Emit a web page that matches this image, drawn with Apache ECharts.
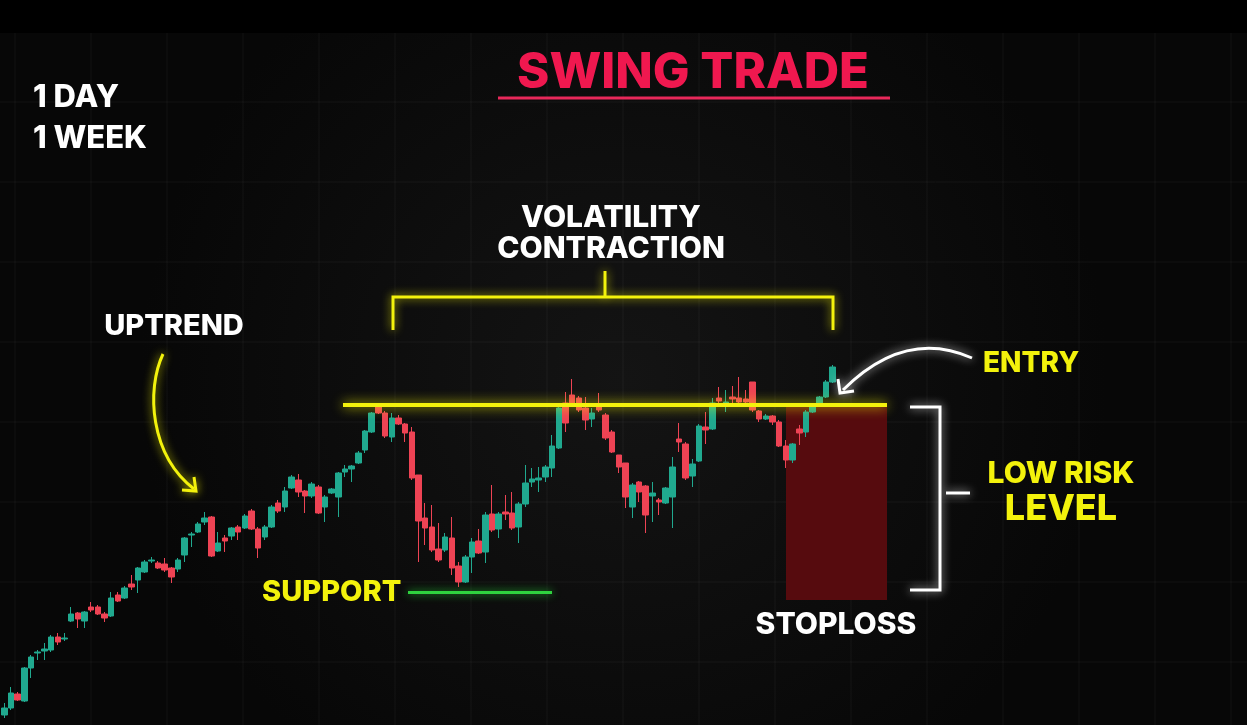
<!DOCTYPE html>
<html>
<head>
<meta charset="utf-8">
<title>Swing Trade</title>
<script src="https://cdn.jsdelivr.net/npm/echarts@6/dist/echarts.min.js"></script>
<style>
    html, body { margin: 0; padding: 0; background: #0a0a0a; }
    #chart { width: 1247px; height: 725px; }
</style>
</head>
<body>
<div id="chart"></div>
<script>
// 蜡烛数据（开、收、低、高）
const opens = [
    18.5, 19.2, 20.6, 19.9, 23.2, 24.7, 24.9, 25.0, 26.3, 26.1,
    27.9, 28.7, 27.9, 29.3, 29.3, 28.6, 28.4, 30.5, 30.2, 31.6,
    32.0, 32.8, 33.9, 33.7, 33.6, 33.2, 33.1, 34.5, 36.5, 36.8,
    37.8, 38.3, 34.9, 36.2, 36.4, 37.3, 37.2, 38.9, 37.1, 36.3,
    37.3, 39.7, 39.3, 41.2, 42.0, 40.9, 40.4, 41.3, 39.3, 40.7,
    40.3, 42.8, 43.1, 43.7, 45.0, 46.8, 49.3, 48.7, 46.3, 48.2,
    47.6, 46.8, 42.5, 38.2, 37.3, 35.1, 35.0, 36.2, 33.4, 31.8,
    34.3, 35.9, 34.8, 38.6, 37.1, 38.8, 38.7, 37.3, 39.6, 41.8,
    42.0, 42.3, 43.2, 45.2, 49.7, 50.5, 50.2, 49.2, 48.1, 49.3,
    48.5, 46.8, 44.5, 43.7, 39.3, 41.8, 41.4, 40.4, 40.0, 39.7,
    40.3, 46.1, 45.6, 42.4, 43.9, 47.3, 47.1, 50.2, 49.7, 50.3,
    50.2, 50.1, 51.8, 48.9, 48.1, 48.4, 47.8, 45.4, 44.0, 47.1,
    46.8, 48.8, 49.7, 50.3, 51.8
];
const closes = [
    19.2, 20.7, 20.0, 23.2, 24.3, 24.8, 25.1, 26.3, 25.8, 26.2,
    28.6, 28.1, 28.8, 29.0, 28.6, 28.2, 30.2, 29.9, 31.2, 31.3,
    33.2, 33.8, 34.0, 33.2, 33.0, 32.3, 34.0, 36.2, 36.6, 37.6,
    38.2, 34.4, 35.7, 35.9, 37.2, 36.8, 38.4, 37.1, 35.2, 37.3,
    39.3, 38.9, 40.9, 42.3, 40.8, 40.4, 41.6, 38.7, 40.3, 41.1,
    42.7, 43.1, 43.4, 44.7, 46.9, 48.7, 48.7, 46.4, 48.2, 47.6,
    46.7, 42.2, 37.9, 37.2, 35.0, 34.0, 36.3, 33.2, 31.8, 34.3,
    35.8, 34.7, 38.5, 37.0, 38.6, 38.6, 37.2, 39.6, 41.7, 42.1,
    42.2, 43.3, 45.4, 49.2, 47.7, 49.7, 49.0, 48.0, 48.7, 49.0,
    46.2, 44.8, 43.3, 40.3, 41.5, 40.8, 38.5, 40.7, 39.8, 41.2,
    43.3, 45.8, 42.2, 43.6, 47.4, 47.0, 49.7, 49.9, 49.8, 50.1,
    49.8, 49.8, 49.0, 48.1, 48.4, 47.8, 45.4, 44.0, 45.6, 46.7,
    48.8, 49.3, 50.3, 51.8, 53.3
];
const lows = [
    18.2, 19.0, 19.9, 19.8, 22.2, 24.0, 24.0, 24.8, 25.5, 25.9,
    27.8, 27.2, 27.2, 28.8, 28.5, 27.8, 28.3, 29.8, 30.1, 31.0,
    30.7, 32.7, 33.7, 33.1, 32.8, 31.7, 32.8, 33.8, 35.3, 36.7,
    37.5, 34.3, 34.8, 34.8, 36.0, 36.0, 37.1, 37.0, 34.2, 36.0,
    37.2, 38.7, 38.8, 41.1, 40.3, 38.7, 40.2, 38.6, 37.8, 40.6,
    38.3, 42.3, 41.8, 43.6, 44.7, 46.7, 48.6, 46.2, 45.8, 47.5,
    45.8, 42.0, 33.8, 35.5, 34.8, 33.8, 34.8, 32.5, 31.3, 31.7,
    32.7, 34.6, 33.7, 36.8, 36.2, 38.0, 37.0, 35.7, 39.3, 41.3,
    40.8, 41.8, 42.3, 45.1, 46.8, 49.5, 48.8, 47.0, 47.3, 48.8,
    46.0, 44.7, 42.7, 39.2, 38.2, 39.8, 36.7, 37.8, 38.5, 39.6,
    37.2, 44.8, 42.0, 41.3, 43.8, 45.6, 47.0, 49.7, 48.8, 49.5,
    49.3, 49.7, 48.8, 47.8, 48.0, 47.5, 45.3, 43.2, 43.7, 45.5,
    46.3, 48.7, 49.6, 50.2, 51.7
];
const highs = [
    19.7, 21.3, 20.8, 23.3, 24.5, 25.0, 25.7, 26.5, 26.7, 26.7,
    29.3, 28.8, 28.9, 29.8, 29.5, 28.8, 30.8, 30.8, 31.4, 32.5,
    33.3, 34.0, 34.3, 33.9, 34.2, 33.3, 34.2, 36.3, 36.8, 37.8,
    38.8, 38.4, 36.8, 36.5, 37.3, 37.5, 38.6, 39.1, 37.3, 37.5,
    39.5, 40.0, 41.3, 42.5, 42.6, 41.0, 41.8, 41.5, 40.5, 41.2,
    42.8, 43.5, 43.5, 44.9, 47.0, 48.8, 49.4, 48.9, 48.7, 48.5,
    47.7, 47.3, 42.5, 39.7, 39.5, 37.7, 36.7, 38.3, 33.8, 34.5,
    36.2, 37.1, 38.8, 41.5, 38.8, 40.5, 40.8, 39.8, 43.5, 43.2,
    43.3, 43.5, 46.5, 49.4, 50.8, 52.1, 50.4, 50.3, 49.2, 50.7,
    48.7, 47.0, 44.5, 43.7, 41.7, 41.9, 41.5, 41.8, 40.2, 41.3,
    44.3, 47.7, 45.8, 44.1, 47.6, 48.8, 50.2, 51.3, 51.0, 51.4,
    52.3, 51.0, 51.8, 49.0, 48.6, 48.5, 48.0, 46.0, 45.7, 47.5,
    49.0, 49.4, 50.4, 52.0, 53.5
];

// 关键价位
const resistanceLevel = 49.5;
const supportLevel = 30.8;
const stopLevel = 30.0;

const days = opens.map((_, i) => 'D' + (i + 1));
const candles = opens.map((o, i) => [o, closes[i], lows[i], highs[i]]);

const UP = '#20a98f';
const DOWN = '#ee4354';
const YELLOW = '#f3f20c';
const FONT = 'Inter, "Noto Sans", sans-serif';

// 背景网格
const bgLines = [];
for (let x = 15; x < 1247; x += 76) {
    bgLines.push({ type: 'line', z: -5, shape: { x1: x, y1: 33, x2: x, y2: 725 }, style: { stroke: 'rgba(255,255,255,0.05)', lineWidth: 1 } });
}
for (let y = 102; y < 725; y += 80) {
    bgLines.push({ type: 'line', z: -5, shape: { x1: 0, y1: y, x2: 1247, y2: y }, style: { stroke: 'rgba(255,255,255,0.05)', lineWidth: 1 } });
}

function label(text, x, y, size, fill, align) {
    return {
        type: 'text',
        z: 100,
        style: {
            text: text,
            x: x,
            y: y,
            fill: fill,
            font: '800 ' + size + 'px ' + FONT,
            align: align || 'center',
            verticalAlign: 'middle'
        }
    };
}

const glowYellow = { stroke: YELLOW, lineWidth: 3, shadowBlur: 10, shadowColor: 'rgba(255,255,0,0.8)', fill: null };
const glowWhite = { stroke: '#ffffff', lineWidth: 3, shadowBlur: 10, shadowColor: 'rgba(255,255,255,0.8)', fill: null };

const eChart = echarts.init(document.getElementById('chart'));
const option = {
    backgroundColor: '#0a0a0a',
    animation: false,
    grid: { left: 1, top: 0, width: 835, height: 725 },
    xAxis: {
        type: 'category',
        data: days,
        show: false
    },
    yAxis: {
        type: 'value',
        min: 17.5,
        max: 90,
        show: false,
        splitLine: { show: false }
    },
    series: [
        {
            type: 'candlestick',
            data: candles,
            barWidth: 6,
            itemStyle: {
                color: UP,
                color0: DOWN,
                borderColor: UP,
                borderColor0: DOWN,
                borderWidth: 1
            },
            markLine: {
                silent: true,
                symbol: 'none',
                label: { show: false },
                data: [
                    [
                        { x: 343, yAxis: resistanceLevel, lineStyle: { color: YELLOW, width: 4, type: 'solid', shadowBlur: 12, shadowColor: 'rgba(255,255,0,0.9)' } },
                        { x: 887, yAxis: resistanceLevel }
                    ],
                    [
                        { x: 408, yAxis: supportLevel, lineStyle: { color: '#2fd23f', width: 3, type: 'solid', shadowBlur: 8, shadowColor: 'rgba(40,230,60,0.8)' } },
                        { x: 552, yAxis: supportLevel }
                    ]
                ]
            },
            markArea: {
                silent: true,
                itemStyle: { color: '#560b0e' },
                data: [
                    [
                        { x: 786, yAxis: resistanceLevel },
                        { x: 887, yAxis: stopLevel }
                    ]
                ]
            }
        }
    ],
    graphic: [
        {
            type: 'rect',
            z: -10,
            shape: { x: 0, y: 33, width: 1247, height: 692 },
            style: {
                fill: new echarts.graphic.RadialGradient(0.5, 0.5, 0.7, [
                    { offset: 0, color: '#141414' },
                    { offset: 1, color: '#070707' }
                ])
            }
        },
        { type: 'rect', z: 110, shape: { x: 0, y: 0, width: 1247, height: 33 }, style: { fill: '#000000' } }
    ].concat(bgLines).concat([
        // 标题
        label('SWING TRADE', 693, 73, 49, '#f0184f'),
        { type: 'line', z: 100, shape: { x1: 498, y1: 98, x2: 890, y2: 98 }, style: { stroke: '#e8285a', lineWidth: 3 } },
        label('1 DAY', 33, 98, 31, '#ffffff', 'left'),
        label('1 WEEK', 33, 139, 31, '#ffffff', 'left'),
        // 波动收缩
        label('VOLATILITY', 611, 218, 30, '#ffffff'),
        label('CONTRACTION', 611, 249, 30, '#ffffff'),
        { type: 'polyline', z: 100, shape: { points: [[393, 330], [393, 297], [833, 297], [833, 330]] }, style: glowYellow },
        { type: 'line', z: 100, shape: { x1: 605, y1: 297, x2: 605, y2: 271 }, style: glowYellow },
        // 上升趋势
        label('UPTREND', 174, 326, 29, '#ffffff'),
        { type: 'bezierCurve', z: 100, shape: { x1: 163, y1: 354, cpx1: 146, cpy1: 390, cpx2: 150, cpy2: 455, x2: 194, y2: 489 }, style: glowYellow },
        { type: 'polyline', z: 100, shape: { points: [[182, 490], [196, 491], [194, 477]] }, style: glowYellow },
        label('SUPPORT', 262, 592, 29, YELLOW, 'left'),
        // 入场
        label('ENTRY', 983, 364, 28, YELLOW, 'left'),
        { type: 'bezierCurve', z: 100, shape: { x1: 972, y1: 358, cpx1: 905, cpy1: 328, x2: 843, y2: 390 }, style: glowWhite },
        { type: 'polyline', z: 100, shape: { points: [[838, 379], [840, 393], [854, 391]] }, style: glowWhite },
        // 低风险区间
        { type: 'polyline', z: 100, shape: { points: [[910, 407], [940, 407], [940, 590], [910, 590]] }, style: glowWhite },
        { type: 'line', z: 100, shape: { x1: 946, y1: 493, x2: 970, y2: 493 }, style: glowWhite },
        label('LOW RISK', 1061, 474, 30, YELLOW),
        label('LEVEL', 1061, 509, 36, YELLOW),
        label('STOPLOSS', 836, 625, 30, '#ffffff')
    ])
};
eChart.setOption(option);
</script>
</body>
</html>
